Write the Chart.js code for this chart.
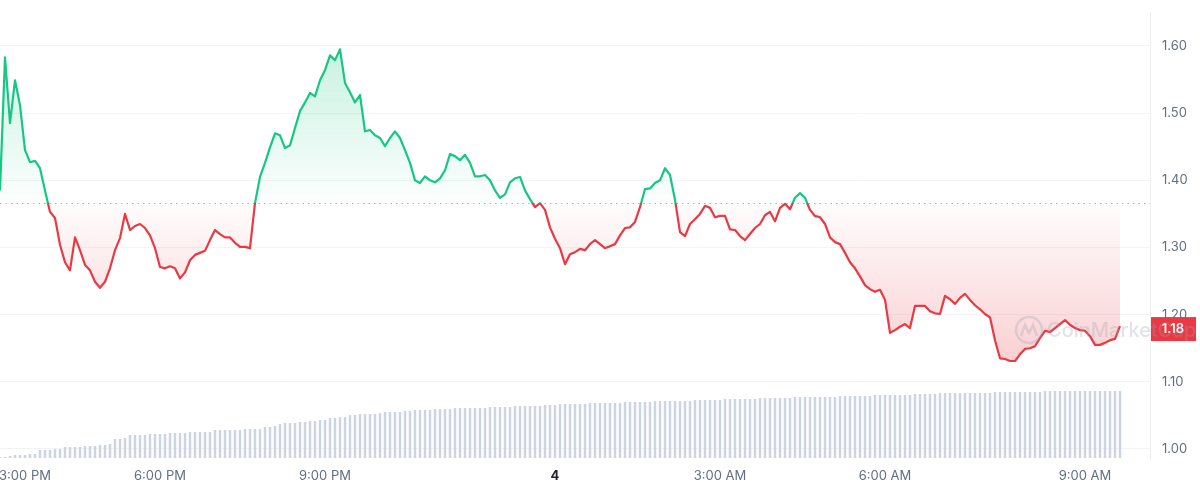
<!DOCTYPE html>
<html>
<head>
<meta charset="utf-8">
<script src="https://cdn.jsdelivr.net/npm/chart.js@4"></script>
<style>
  html, body { margin: 0; padding: 0; background: #fff; }
  #wrap { width: 1200px; height: 491px; }
</style>
</head>
<body>
<div id="wrap"><canvas id="chart"></canvas></div>
<script>
// price, one reading every slot (about 5 min)
const price = [
  1.385, 1.583, 1.485, 1.549, 1.512, 1.445, 1.427, 1.429, 1.418, 1.385,
  1.353, 1.344, 1.304, 1.278, 1.266, 1.315, 1.296, 1.274, 1.266, 1.249,
  1.240, 1.249, 1.269, 1.296, 1.314, 1.350, 1.326, 1.332, 1.335, 1.329,
  1.318, 1.299, 1.271, 1.269, 1.272, 1.269, 1.254, 1.263, 1.281, 1.289,
  1.292, 1.295, 1.311, 1.326, 1.320, 1.315, 1.315, 1.307, 1.301, 1.301,
  1.299, 1.366, 1.405, 1.426, 1.449, 1.470, 1.467, 1.448, 1.452, 1.478,
  1.503, 1.516, 1.530, 1.525, 1.549, 1.564, 1.586, 1.579, 1.595, 1.545,
  1.531, 1.516, 1.527, 1.473, 1.475, 1.467, 1.463, 1.451, 1.463, 1.473,
  1.463, 1.445, 1.426, 1.400, 1.396, 1.406, 1.400, 1.397, 1.403, 1.415,
  1.439, 1.436, 1.430, 1.438, 1.426, 1.406, 1.406, 1.408, 1.400, 1.385,
  1.374, 1.379, 1.397, 1.403, 1.405, 1.385, 1.372, 1.360, 1.366, 1.356,
  1.330, 1.313, 1.299, 1.275, 1.290, 1.293, 1.298, 1.296, 1.305, 1.311,
  1.305, 1.299, 1.302, 1.305, 1.318, 1.329, 1.330, 1.338, 1.360, 1.387,
  1.388, 1.396, 1.400, 1.418, 1.408, 1.371, 1.323, 1.317, 1.335, 1.342,
  1.350, 1.362, 1.359, 1.345, 1.347, 1.347, 1.327, 1.326, 1.317, 1.311,
  1.320, 1.329, 1.335, 1.348, 1.353, 1.339, 1.359, 1.365, 1.357, 1.374,
  1.381, 1.374, 1.356, 1.347, 1.345, 1.335, 1.315, 1.308, 1.305, 1.292,
  1.278, 1.269, 1.257, 1.244, 1.238, 1.234, 1.237, 1.222, 1.173, 1.177,
  1.182, 1.186, 1.180, 1.213, 1.213, 1.213, 1.205, 1.202, 1.201, 1.228,
  1.223, 1.216, 1.225, 1.231, 1.222, 1.214, 1.208, 1.201, 1.196, 1.162,
  1.135, 1.134, 1.131, 1.131, 1.141, 1.149, 1.150, 1.153, 1.165, 1.176,
  1.174, 1.180, 1.186, 1.192, 1.185, 1.180, 1.177, 1.176, 1.168, 1.155,
  1.155, 1.158, 1.162, 1.164, 1.183
];

const volume = [
  1, 1, 2, 3, 3, 3, 4, 4, 8, 8,
  8, 9, 9, 11, 11, 11, 11, 12, 12, 12,
  13, 13, 14, 19, 19, 20, 23, 23, 23, 23,
  24, 24, 24, 24, 25, 25, 25, 25, 26, 26,
  26, 26, 26, 28, 28, 28, 28, 28, 28, 29,
  29, 29, 29, 31, 31, 32, 34, 35, 35, 35,
  36, 36, 37, 37, 38, 38, 40, 40, 41, 41,
  43, 43, 44, 44, 44, 44, 45, 46, 46, 46,
  46, 47, 47, 48, 48, 48, 48, 49, 49, 49,
  49, 50, 50, 50, 50, 50, 50, 50, 51, 51,
  51, 51, 51, 52, 52, 52, 52, 52, 52, 53,
  53, 53, 54, 54, 54, 54, 54, 54, 55, 55,
  55, 55, 55, 55, 55, 56, 56, 56, 56, 56,
  56, 57, 57, 57, 57, 57, 57, 57, 57, 58,
  58, 58, 58, 58, 58, 59, 59, 59, 59, 59,
  59, 59, 60, 60, 60, 60, 60, 60, 60, 61,
  61, 61, 61, 61, 61, 61, 61, 61, 62, 62,
  62, 62, 62, 62, 62, 63, 63, 63, 63, 63,
  63, 63, 63, 64, 64, 64, 64, 64, 65, 65,
  65, 65, 65, 65, 65, 65, 65, 65, 65, 66,
  66, 66, 66, 66, 66, 66, 66, 66, 66, 67,
  67, 67, 67, 67, 67, 67, 67, 67, 67, 67,
  67, 67, 67, 67, 67
];

const tickIndex = [5, 32, 65, 111, 144, 177, 217];
const tickText = ['3:00 PM', '6:00 PM', '9:00 PM', '4', '3:00 AM', '6:00 AM', '9:00 AM'];
const priceTicks = [1.0, 1.1, 1.2, 1.3, 1.4, 1.5, 1.6];
const baseline = 1.366;
const lastLabel = '1.18';

const slots = 231; // a few empty slots after the last reading
const labels = Array.from({ length: slots }, (_, i) => i);

const GREEN = '#16c784';
const RED = '#ea3943';

function splitStroke(c) {
  const chart = c.chart;
  const area = chart.chartArea;
  if (!area) return GREEN;
  const yb = chart.scales.y.getPixelForValue(baseline);
  const s = Math.min(Math.max((yb - area.top) / (area.bottom - area.top), 0), 1);
  const g = chart.ctx.createLinearGradient(0, area.top, 0, area.bottom);
  g.addColorStop(0, GREEN);
  g.addColorStop(s, GREEN);
  g.addColorStop(s, RED);
  g.addColorStop(1, RED);
  return g;
}

function splitFill(c) {
  const chart = c.chart;
  if (!chart.chartArea) return 'rgba(0,0,0,0)';
  const y = chart.scales.y;
  const yTop = y.getPixelForValue(1.6);
  const yLow = y.getPixelForValue(1.13);
  const yb = y.getPixelForValue(baseline);
  const s = (yb - yTop) / (yLow - yTop);
  const g = chart.ctx.createLinearGradient(0, yTop, 0, yLow);
  g.addColorStop(0, 'rgba(22,199,132,0.24)');
  g.addColorStop(s, 'rgba(22,199,132,0.01)');
  g.addColorStop(s, 'rgba(234,57,67,0.01)');
  g.addColorStop(1, 'rgba(234,57,67,0.24)');
  return g;
}

const baselinePlugin = {
  id: 'baseline',
  beforeDatasetsDraw(chart) {
    const { ctx, chartArea } = chart;
    const yb = Math.round(chart.scales.y.getPixelForValue(baseline)) + 0.5;
    ctx.save();
    ctx.strokeStyle = '#a6b0c3';
    ctx.lineWidth = 1;
    ctx.setLineDash([1.5, 4]);
    ctx.beginPath();
    ctx.moveTo(chartArea.left, yb);
    ctx.lineTo(chartArea.right, yb);
    ctx.stroke();
    ctx.restore();
  }
};

const lastPricePlugin = {
  id: 'lastPrice',
  afterDraw(chart) {
    const { ctx, chartArea } = chart;
    const yp = chart.scales.y.getPixelForValue(price[price.length - 1]) + 3;
    ctx.save();
    ctx.fillStyle = RED;
    ctx.fillRect(chartArea.right + 1, yp - 12, 45, 24);
    ctx.fillStyle = '#fff';
    ctx.font = '600 13px Inter';
    ctx.textAlign = 'center';
    ctx.textBaseline = 'middle';
    ctx.fillText(lastLabel, chartArea.right + 23, yp);

    // watermark
    ctx.globalAlpha = 0.3;
    ctx.strokeStyle = '#98a2b3';
    ctx.fillStyle = '#98a2b3';
    ctx.lineWidth = 2.5;
    ctx.beginPath();
    ctx.arc(1029, 330, 13, 0, Math.PI * 2);
    ctx.stroke();
    ctx.beginPath();
    ctx.moveTo(1021, 336);
    ctx.lineTo(1025, 325);
    ctx.lineTo(1029, 333);
    ctx.lineTo(1033, 325);
    ctx.lineTo(1037, 336);
    ctx.stroke();
    ctx.font = '500 20px Inter';
    ctx.textAlign = 'left';
    ctx.fillText('CoinMarketCap', 1047, 331);
    ctx.restore();
  }
};

new Chart(document.getElementById('chart'), {
  data: {
    labels: labels,
    datasets: [{
      type: 'line',
      data: price,
      yAxisID: 'y',
      order: 1,
      borderColor: splitStroke,
      backgroundColor: splitFill,
      borderWidth: 2.2,
      pointRadius: 0,
      tension: 0,
      borderJoinStyle: 'round',
      fill: { value: baseline }
    }, {
      type: 'bar',
      data: volume,
      yAxisID: 'vol',
      order: 2,
      backgroundColor: '#cdd4e1',
      categoryPercentage: 1,
      barPercentage: 0.5
    }]
  },
  options: {
    responsive: true,
    maintainAspectRatio: false,
    animation: false,
    layout: { padding: { top: 12, left: 0, right: 0, bottom: 0 } },
    plugins: { legend: { display: false }, tooltip: { enabled: false } },
    scales: {
      x: {
        type: 'category',
        offset: false,
        grid: { display: false, drawTicks: false },
        border: { display: false },
        afterFit(s) { s.height = 33; s.paddingLeft = 0; s.paddingRight = 0; },
        ticks: {
          autoSkip: false,
          maxRotation: 0,
          padding: 10,
          color: (c) => (c.tick && c.tick.label === '4') ? '#222531' : '#616e85',
          font: (c) => ({ family: 'Inter', size: 13, weight: (c.tick && c.tick.label === '4') ? 'bold' : 'normal' }),
          callback: (v) => {
            const k = tickIndex.indexOf(v);
            return k >= 0 ? tickText[k] : null;
          }
        }
      },
      y: {
        position: 'right',
        min: 0.9866,
        max: 1.6506,
        afterFit(s) { s.width = 50; s.paddingTop = 0; s.paddingBottom = 0; },
        afterBuildTicks(s) { s.ticks = priceTicks.map(v => ({ value: v })); },
        grid: { color: '#f3f4f6', drawTicks: false },
        border: { display: true, color: '#eceef2' },
        ticks: {
          padding: 12,
          color: '#616e85',
          font: { family: 'Inter', size: 13 },
          callback: (v) => v.toFixed(2)
        }
      },
      vol: {
        display: false,
        min: 0,
        max: 446
      }
    }
  },
  plugins: [baselinePlugin, lastPricePlugin]
});
</script>
</body>
</html>
